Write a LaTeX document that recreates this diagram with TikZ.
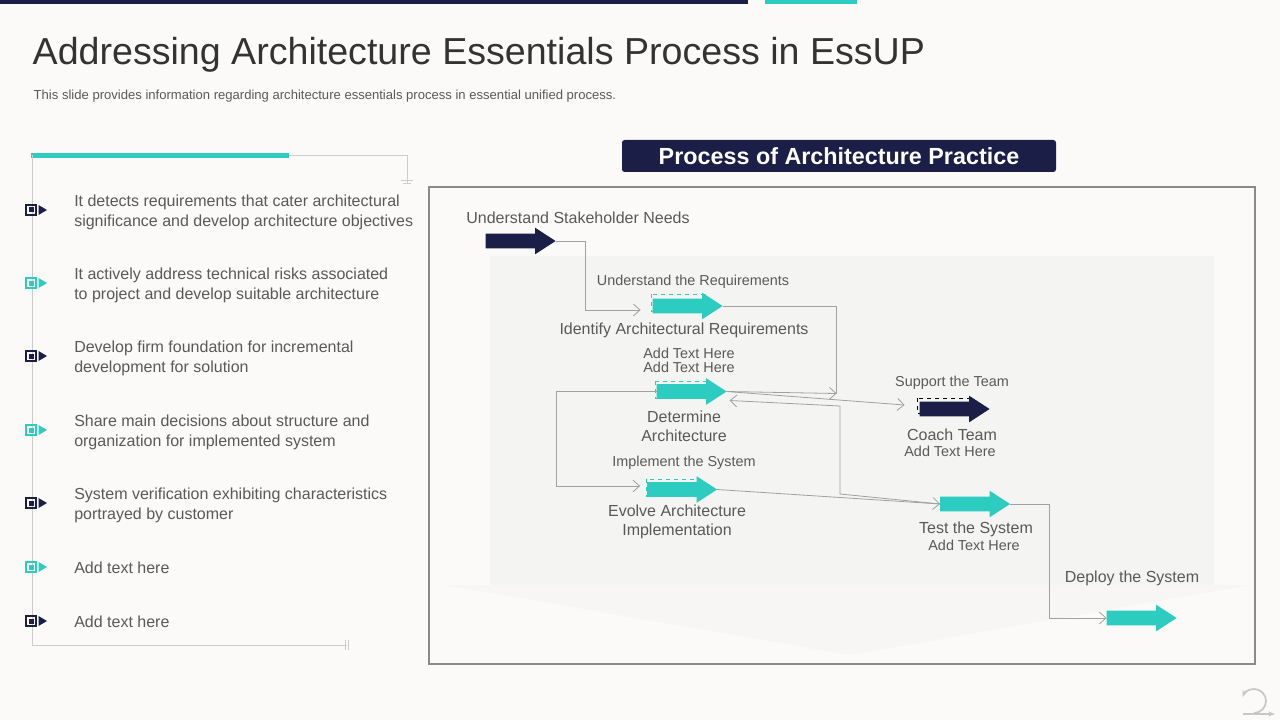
\documentclass[tikz,border=0pt]{standalone}
\usepackage{fontspec}
\setmainfont{Liberation Sans}
\usetikzlibrary{arrows.meta,positioning,calc,shapes.arrows}
\definecolor{stepnavy}{HTML}{1B1E47}
\definecolor{stepteal}{HTML}{2CCCC0}
\definecolor{slidebg}{HTML}{FCFAF8}
\definecolor{panel}{HTML}{F4F4F3}
\definecolor{chevron}{HTML}{F7F6F5}
\definecolor{txt}{HTML}{595959}
\definecolor{wire}{HTML}{A0A0A0}
\definecolor{frame}{HTML}{8A8A8A}

\begin{document}
\begin{tikzpicture}[x=0.75pt,y=-0.75pt,
  every node/.style={text=txt},
  lbl/.style={font=\fontsize{12}{14.5}\selectfont},
  sub/.style={font=\fontsize{10.8}{10.5}\selectfont},
  blockarrow/.style={single arrow, draw=none, minimum height=52.5pt, minimum width=19.5pt,
    single arrow head extend=4.5pt, single arrow tip angle=66, inner xsep=0pt,
    inner ysep=5.25pt, outer sep=0pt},
  conn/.style={draw=wire, line width=0.6pt},
  flow/.style={conn, -{Straight Barb[length=5pt,width=9pt]}}]
  % slide
  \fill[slidebg] (0,0) rectangle (1280,720);
  \fill[stepnavy] (0,0) rectangle (748,4);
  \fill[stepteal] (765,0) rectangle (857,4);
  \node[anchor=base west, font=\fontsize{28.2}{32}\selectfont, text=black!80] (title) at (28,65)
    {Addressing Architecture Essentials Process in EssUP};
  \node[anchor=base west, font=\fontsize{9.8}{11}\selectfont] (subtitle) at (29,100)
    {This slide provides information regarding architecture essentials process in essential unified process.};

  % left list
  \fill[stepteal] (31,153) rectangle (289,158);
  \draw[black!20] (289,155) -- (407,155) -- (407,183);
  \draw[black!20] (401,180) -- (413,180) (403,183) -- (411,183);
  \draw[black!20] (32,155) -- (32,645) -- (347,645);
  \draw[black!20] (345,640) -- (345,650) (348,640) -- (348,650);
  \foreach \y/\c in {210/stepnavy,283/stepteal,356/stepnavy,430/stepteal,503/stepnavy,567/stepteal,621/stepnavy}{
    \draw[\c, line width=1.5pt] (26,\y-5) rectangle (36,\y+5);
    \fill[\c] (29,\y-2.5) rectangle (33.5,\y+2.5);
    \fill[\c] (38.5,\y-5) -- (47,\y) -- (38.5,\y+5) -- cycle;
  }
  \foreach \y/\t [count=\i] in {
      212.5/{It detects requirements that cater architectural\\significance and develop architecture objectives},
      285.5/{It actively address technical risks associated\\to project and develop suitable architecture},
      358.5/{Develop firm foundation for incremental\\development for solution},
      432.5/{Share main decisions about structure and\\organization for implemented system},
      505.5/{System verification exhibiting characteristics\\portrayed by customer},
      568/{Add text here},
      622/{Add text here}}
    \node[lbl, anchor=west, align=left, inner sep=0pt] (bt\i) at (74,\y) {\t};

  % process panel
  \node[fill=stepnavy, rounded corners=2pt, minimum width=325.5pt, minimum height=24pt,
    font=\bfseries\fontsize{17.5}{20}\selectfont, text=white] (head) at (839,156)
    {Process of Architecture Practice};
  \draw[frame, line width=0.8pt] (429,187) rectangle (1255,664);
  \fill[panel] (490,256) rectangle (1214,585);
  \fill[chevron] (445,585) -- (1250,585) -- (850,655) -- cycle;

  % dashed marks behind arrows
  \draw[stepteal, dashed, line width=0.6pt] (651,294) rectangle (705,311);
  \draw[stepteal, dashed, line width=0.6pt] (655,381) rectangle (708,398);
  \draw[stepteal, dashed, line width=0.6pt] (646,479) rectangle (697,496);
  \draw[black, dashed, line width=0.6pt] (917,398) rectangle (969,413);

  % steps
  \node[blockarrow, fill=stepnavy] (stake) at (515,241) {};
  \node[blockarrow, fill=stepteal] (ident) at (682,306) {};
  \node[blockarrow, fill=stepteal] (determ) at (686,391.5) {};
  \node[blockarrow, fill=stepteal] (evolve) at (676.5,489.5) {};
  \node[blockarrow, fill=stepnavy] (coach) at (949,409) {};
  \node[blockarrow, fill=stepteal] (test) at (969.5,504) {};
  \node[blockarrow, fill=stepteal] (deploy) at (1136,618) {};

  % labels
  \node[lbl] (stakelbl) at (578,218) {Understand Stakeholder Needs};
  \node[sub] (reqlbl) at (693,282) {Understand the Requirements};
  \node[lbl] (identlbl) at (684,330) {Identify Architectural Requirements};
  \node[sub, align=center] (identadd) at (689,360) {Add Text Here\\Add Text Here};
  \node[lbl, align=center] (determlbl) at (684,426) {Determine\\Architecture};
  \node[sub] (impllbl) at (684,463) {Implement the System};
  \node[lbl, align=center] (evolvelbl) at (677,522) {Evolve Architecture\\Implementation};
  \node[sub] (supportlbl) at (952,383) {Support the Team};
  \node[lbl] (coachlbl) at (952,435) {Coach Team};
  \node[sub] (coachadd) at (950,451) {Add Text Here};
  \node[lbl] (testlbl) at (976,529) {Test the System};
  \node[sub] (testadd) at (974,545) {Add Text Here};
  \node[lbl] (deploylbl) at (1132,578) {Deploy the System};

  % connectors
  \coordinate (join) at ($(determ.tip)+(110,2)$);
  \coordinate (back) at (840,406);
  \draw[flow] (stake.tip) -- ++(30,0) |- ($(ident.tail)+(-12,4)$);
  \draw[conn] (ident.tip) -| (join);
  \draw[flow] (determ.tip) -- (join);
  \draw[flow] (determ.tip) -- ($(coach.tail)+(-15,-4)$);
  \draw[flow] (test.tail) -- (back |- 0,494) -- (back) -- ($(determ.tip)+(3,9)$);
  \draw[flow] (evolve.tip) -- (test.tail);
  \draw[flow] (determ.tail) -- ++(-100,0) |- ($(evolve.tail)+(-7,-3.5)$);
  \draw[flow] (test.tip) -- ++(39,0) |- (deploy.tail);

  % corner icon
  \draw[black!22, line width=1.3pt, -{Stealth[length=5pt]}] (1254,713) arc (90:-160:12);
  \draw[black!22, line width=1.3pt, -{Stealth[length=5pt]}] (1243,714) -- (1275,714);
\end{tikzpicture}
\end{document}
